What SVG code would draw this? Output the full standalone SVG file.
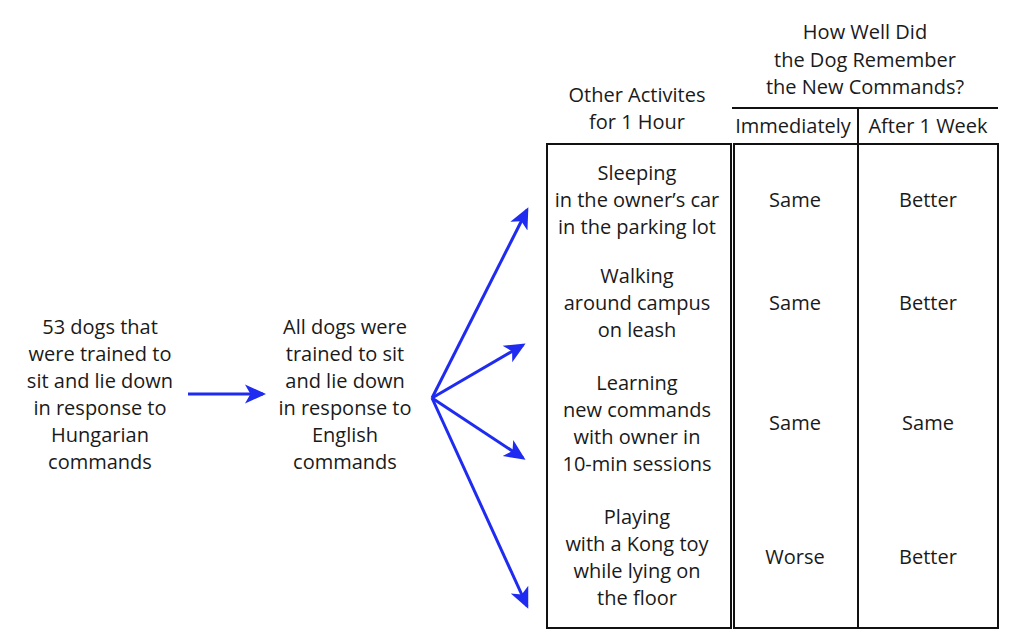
<svg xmlns="http://www.w3.org/2000/svg" width="1018" height="640" viewBox="0 0 1018 640">
<style>
text{font-family:"Open Sans",Lato,"Liberation Sans",sans-serif;font-size:20px;fill:#1a1a1a;text-anchor:middle}
.box{fill:none;stroke:#111;stroke-width:2}
.ln{stroke:#111;stroke-width:2}
.arr{stroke:#1f2bf0;stroke-width:3;fill:none;marker-end:url(#ah)}
</style>
<defs>
<marker id="ah" markerWidth="8" markerHeight="8" refX="6" refY="4" orient="auto" markerUnits="strokeWidth">
<path d="M0,0.8 L7,4 L0,7.2 L1.8,4 Z" fill="#1f2bf0"/>
</marker>
</defs>
<rect width="1018" height="640" fill="#fff"/>
<g id="start">
<text x="100" y="334">53 dogs that</text>
<text x="100" y="361">were trained to</text>
<text x="100" y="388">sit and lie down</text>
<text x="100" y="415">in response to</text>
<text x="100" y="442">Hungarian</text>
<text x="100" y="469">commands</text>
</g>
<g id="retrain">
<text x="345" y="334">All dogs were</text>
<text x="345" y="361">trained to sit</text>
<text x="345" y="388">and lie down</text>
<text x="345" y="415">in response to</text>
<text x="345" y="442">English</text>
<text x="345" y="469">commands</text>
</g>
<g id="headers">
<text x="637" y="102">Other Activites</text>
<text x="637" y="129">for 1 Hour</text>
<text x="865" y="39">How Well Did</text>
<text x="865" y="67">the Dog Remember</text>
<text x="865" y="94">the New Commands?</text>
<line class="ln" x1="732" y1="108" x2="998" y2="108"/>
<line class="ln" x1="858" y1="108" x2="858" y2="144"/>
<text x="793" y="133">Immediately</text>
<text x="928" y="133">After 1 Week</text>
</g>
<g id="table">
<rect class="box" x="547" y="144" width="184" height="484"/>
<rect class="box" x="734" y="144" width="264" height="484"/>
<line class="ln" x1="858" y1="144" x2="858" y2="628"/>
</g>
<g id="row-sleeping">
<text x="637" y="180">Sleeping</text>
<text x="637" y="207">in the owner’s car</text>
<text x="637" y="234">in the parking lot</text>
<text x="795" y="207">Same</text>
<text x="928" y="207">Better</text>
</g>
<g id="row-walking">
<text x="637" y="283">Walking</text>
<text x="637" y="310">around campus</text>
<text x="637" y="337">on leash</text>
<text x="795" y="310">Same</text>
<text x="928" y="310">Better</text>
</g>
<g id="row-learning">
<text x="637" y="390">Learning</text>
<text x="637" y="417">new commands</text>
<text x="637" y="444">with owner in</text>
<text x="637" y="471">10-min sessions</text>
<text x="795" y="430">Same</text>
<text x="928" y="430">Same</text>
</g>
<g id="row-playing">
<text x="637" y="524">Playing</text>
<text x="637" y="551">with a Kong toy</text>
<text x="637" y="578">while lying on</text>
<text x="637" y="605">the floor</text>
<text x="795" y="564">Worse</text>
<text x="928" y="564">Better</text>
</g>
<g id="connectors">
<line class="arr" x1="188" y1="394" x2="263" y2="394"/>
<line class="arr" x1="432" y1="398" x2="527" y2="210"/>
<line class="arr" x1="432" y1="398" x2="523" y2="345"/>
<line class="arr" x1="432" y1="398" x2="523" y2="458"/>
<line class="arr" x1="432" y1="398" x2="527" y2="606"/>
</g>
</svg>
